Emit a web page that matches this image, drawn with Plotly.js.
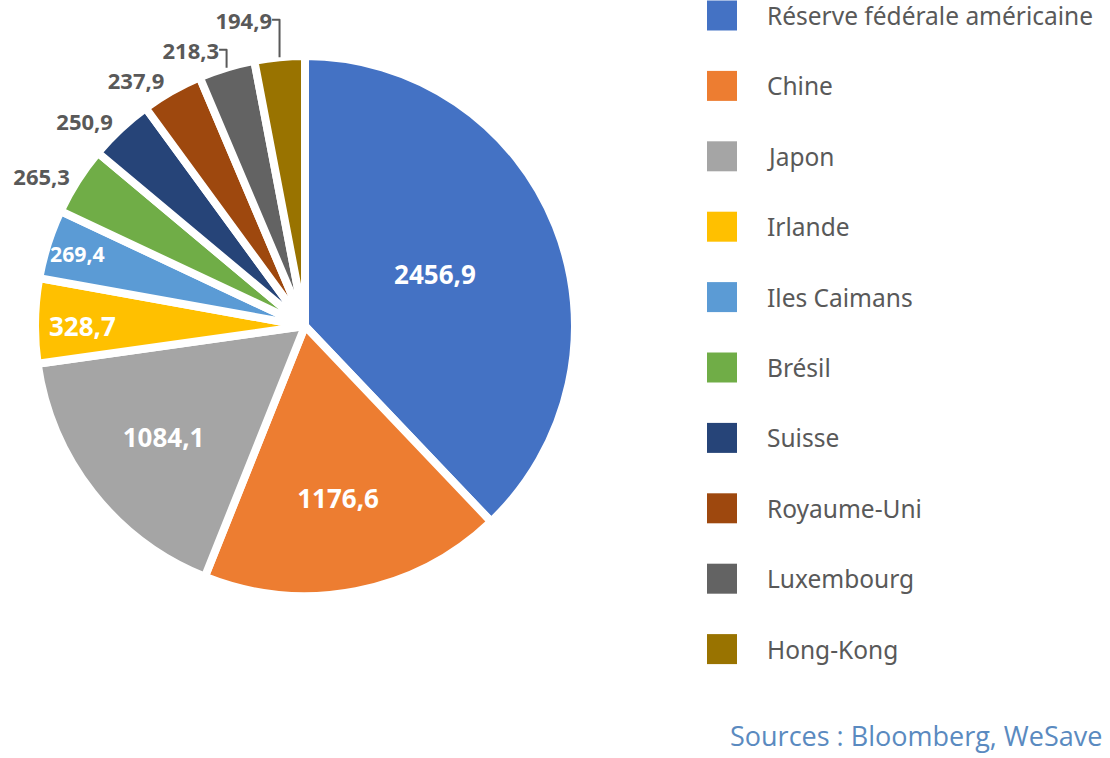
<!DOCTYPE html>
<html>
<head>
<meta charset="utf-8">
<script src="https://cdn.plot.ly/plotly-3.0.1.min.js"></script>
<style>
  html, body { margin: 0; padding: 0; background: #fff; }
  #chart { width: 1110px; height: 758px; }
</style>
</head>
<body>
<div id="chart"></div>
<script>
/* ─── Détenteurs de la dette américaine ─── */

const labels = [
    'Réserve fédérale américaine', 'Chine', 'Japon', 'Irlande', 'Iles Caimans',
    'Brésil', 'Suisse', 'Royaume-Uni', 'Luxembourg', 'Hong-Kong',
];
const values = [2456.9, 1176.6, 1084.1, 328.7, 269.4, 265.3, 250.9, 237.9, 218.3, 194.9];
const colors = [
    '#4472C4', '#ED7D31', '#A5A5A5', '#FFC000', '#5B9BD5',
    '#70AD47', '#264478', '#9E480E', '#636363', '#997300',
];
const textPositions = [
    'inside', 'inside', 'inside', 'inside', 'inside',
    'outside', 'outside', 'outside', 'outside', 'outside',
];

const W = 1110, H = 758;
// pie centre and radius in pixels
const cx = 305, cy0 = 326, R = 270;

const trace = {
    type: 'pie',
    labels: labels,
    values: values,
    sort: false,
    direction: 'clockwise',
    rotation: 0,
    marker: { colors: colors, line: { color: '#ffffff', width: 8 } },
    texttemplate: '%{value:.1f}',
    textposition: textPositions,
    insidetextorientation: 'horizontal',
    insidetextfont: { family: 'Noto Sans', size: 26, color: '#ffffff', weight: 'bold' },
    outsidetextfont: { family: 'Noto Sans', size: 22, color: '#595959', weight: 'bold' },
    hoverinfo: 'label+value',
    showlegend: false,
    domain: {
        x: [(cx - R) / W, (cx + R) / W],
        y: [(H - cy0 - R) / H, (H - cy0 + R) / H],
    },
};

// Legend drawn by hand: the spacing in the reference is far wider than Plotly's
const shapes = [];
const annotations = [];
labels.forEach((name, i) => {
    const cy = 15.5 + i * 70.4;
    shapes.push({
        type: 'rect', xref: 'paper', yref: 'paper',
        x0: 707 / W, x1: 737 / W,
        y0: 1 - (cy + 15) / H, y1: 1 - (cy - 15) / H,
        fillcolor: colors[i], line: { width: 0 },
    });
    annotations.push({
        xref: 'paper', yref: 'paper',
        x: 765 / W, y: 1 - cy / H,
        xanchor: 'left', yanchor: 'middle',
        text: name, showarrow: false,
        font: { family: 'Noto Sans', size: 24.5, color: '#595959' },
    });
});

annotations.push({
    xref: 'paper', yref: 'paper',
    x: 1104 / W, y: 1 - 735 / H,
    xanchor: 'right', yanchor: 'middle',
    text: 'Sources : Bloomberg, WeSave', showarrow: false,
    font: { family: 'Open Sans', size: 27, color: '#5A8AC0' },
});

const layout = {
    width: W,
    height: H,
    margin: { t: 0, r: 0, b: 0, l: 0 },
    paper_bgcolor: '#ffffff',
    separators: ', ',
    showlegend: false,
    shapes: shapes,
    annotations: annotations,
};

Plotly.newPlot('chart', [trace], layout, { displayModeBar: false, staticPlot: true });
</script>
</body>
</html>
